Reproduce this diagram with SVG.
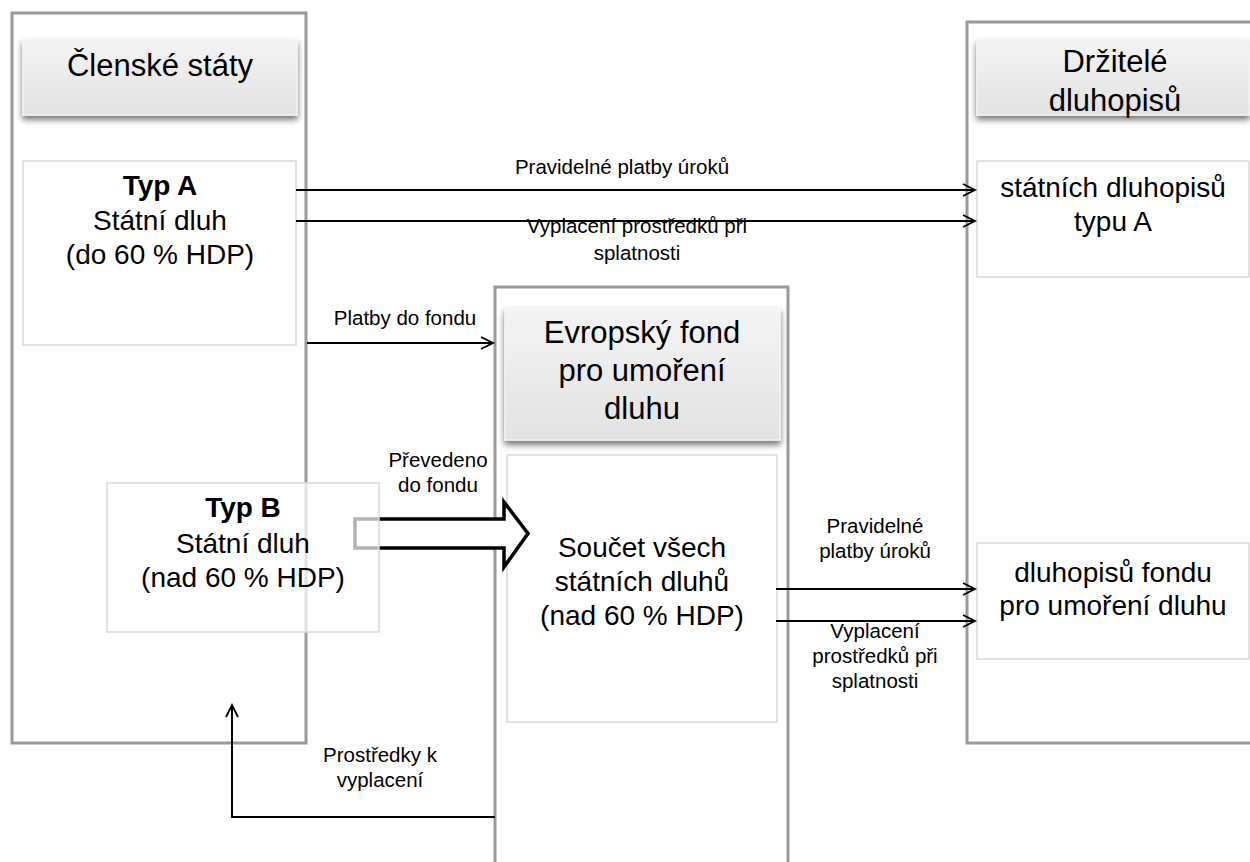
<svg xmlns="http://www.w3.org/2000/svg" width="1250" height="862" viewBox="0 0 1250 862">
<style>
text{font-family:"Liberation Sans",Arial,sans-serif;fill:#000;text-anchor:middle}
.cont{fill:#fff;stroke:#9a9a9a;stroke-width:3}
.inner{fill:#fff;stroke:#d9d9d9;stroke-width:1.5}
.hdr{fill:url(#hg);stroke:#f4f4f4;stroke-width:1.5;filter:url(#sh)}
.ht{font-size:31px}
.bt{font-size:28px}
.bold{font-weight:bold}
.lt{font-size:20.5px}
.conn{fill:none;stroke:#000;stroke-width:2;marker-end:url(#ah)}
</style>
<defs>
<linearGradient id="hg" x1="0" y1="0" x2="0" y2="1">
<stop offset="0" stop-color="#f4f4f4"/>
<stop offset="1" stop-color="#e2e2e2"/>
</linearGradient>
<filter id="sh" x="-10%" y="-20%" width="120%" height="150%">
<feDropShadow dx="0" dy="4" stdDeviation="3" flood-color="#000" flood-opacity="0.55"/>
</filter>
<marker id="ah" markerWidth="16" markerHeight="16" refX="13" refY="8" orient="auto" markerUnits="userSpaceOnUse">
<path d="M1,2 L13,8 L1,14" fill="none" stroke="#000" stroke-width="1.8"/>
</marker>
</defs>

<g id="clenske-staty">
<rect class="cont" x="12" y="13" width="294" height="730"/>
<rect class="hdr" x="23" y="40" width="274" height="75"/>
<text class="ht" x="160" y="76">Členské státy</text>
</g>

<g id="drzitele">
<rect class="cont" x="967" y="22" width="300" height="721"/>
<rect class="hdr" x="977" y="40" width="272" height="75"/>
<text class="ht" x="1115" y="72">Držitelé</text>
<text class="ht" x="1115" y="111">dluhopisů</text>
</g>

<g id="fond">
<rect class="cont" x="495" y="287" width="293" height="620"/>
<rect class="hdr" x="505" y="308" width="275" height="132"/>
<text class="ht" x="642" y="343">Evropský fond</text>
<text class="ht" x="642" y="381">pro umoření</text>
<text class="ht" x="642" y="419">dluhu</text>
</g>

<g id="typ-a">
<rect class="inner" x="23" y="161" width="273" height="184"/>
<text class="bt bold" x="160" y="195">Typ A</text>
<text class="bt" x="160" y="230">Státní dluh</text>
<text class="bt" x="160" y="264">(do 60 % HDP)</text>
</g>

<g id="statni-dluhopisy-a">
<rect class="inner" x="977" y="161" width="272" height="116"/>
<text class="bt" x="1113" y="197">státních dluhopisů</text>
<text class="bt" x="1113" y="231">typu A</text>
</g>

<g id="soucet">
<rect class="inner" x="507" y="455" width="270" height="267"/>
<text class="bt" x="642" y="557">Součet všech</text>
<text class="bt" x="642" y="591">státních dluhů</text>
<text class="bt" x="642" y="625">(nad 60 % HDP)</text>
</g>

<g id="dluhopisy-fondu">
<rect class="inner" x="977" y="543" width="272" height="116"/>
<text class="bt" x="1113" y="582">dluhopisů fondu</text>
<text class="bt" x="1113" y="615">pro umoření dluhu</text>
</g>

<g id="connectors">
<line class="conn" x1="296" y1="190" x2="975" y2="190"/>
<text class="lt" x="622" y="174">Pravidelné platby úroků</text>
<line class="conn" x1="296" y1="221" x2="975" y2="221"/>
<text class="lt" x="637" y="233">Vyplacení prostředků při</text>
<text class="lt" x="637" y="260">splatnosti</text>
<line class="conn" x1="307" y1="343" x2="493" y2="343"/>
<text class="lt" x="405" y="325">Platby do fondu</text>
<path d="M355,519 L504,519 L504,502 L528,533.5 L504,567 L504,548 L355,548 Z" fill="#fff" stroke="#000" stroke-width="3.5" stroke-linejoin="miter"/>
<text class="lt" x="438" y="467">Převedeno</text>
<text class="lt" x="438" y="492">do fondu</text>
<line class="conn" x1="776" y1="589" x2="975" y2="589"/>
<text class="lt" x="875" y="533">Pravidelné</text>
<text class="lt" x="875" y="558">platby úroků</text>
<line class="conn" x1="776" y1="621" x2="975" y2="621"/>
<text class="lt" x="875" y="638">Vyplacení</text>
<text class="lt" x="875" y="663">prostředků při</text>
<text class="lt" x="875" y="688">splatnosti</text>
<path class="conn" d="M495,817 L232,817 L232,705"/>
<text class="lt" x="380" y="762">Prostředky k</text>
<text class="lt" x="380" y="787">vyplacení</text>
</g>

<g id="typ-b">
<rect x="107" y="483" width="272" height="149" fill="#fff" fill-opacity="0.7" stroke="#d9d9d9" stroke-width="1.5"/>
<text class="bt bold" x="243" y="517">Typ B</text>
<text class="bt" x="243" y="553">Státní dluh</text>
<text class="bt" x="243" y="587">(nad 60 % HDP)</text>
</g>
</svg>
